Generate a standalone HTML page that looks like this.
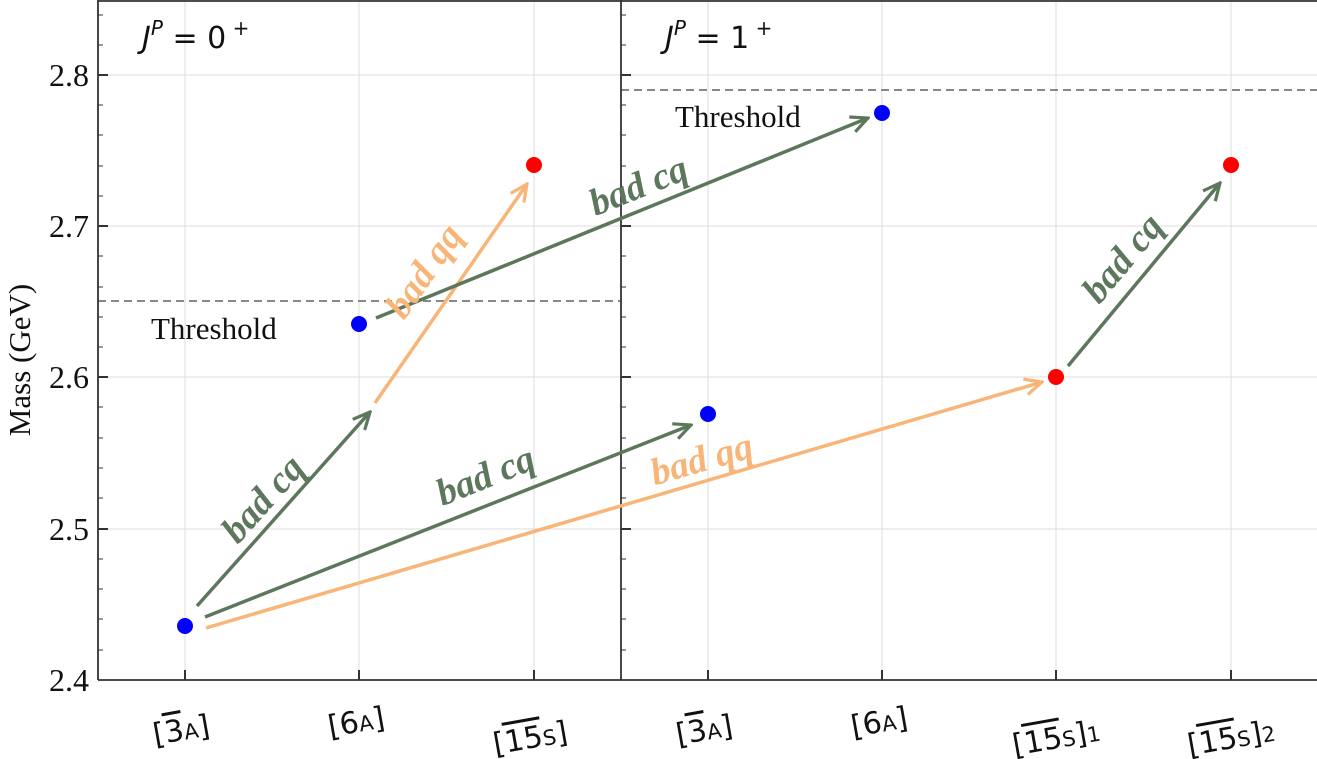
<!DOCTYPE html>
<html><head><meta charset="utf-8"><style>body{margin:0;background:#fff}svg{display:block}</style></head><body>
<svg width="1317" height="759" xmlns="http://www.w3.org/2000/svg" font-family="Liberation Serif, serif">
<defs>
<marker id="ag" markerWidth="20" markerHeight="20" refX="18" refY="10" orient="auto" markerUnits="userSpaceOnUse" viewBox="0 0 20 20"><path d="M1,2 L18,10 L1,18" fill="none" stroke="#5d775d" stroke-width="3.2"/></marker>
<marker id="ao" markerWidth="20" markerHeight="20" refX="18" refY="10" orient="auto" markerUnits="userSpaceOnUse" viewBox="0 0 20 20"><path d="M1,2 L18,10 L1,18" fill="none" stroke="#f8b577" stroke-width="3.2"/></marker>
</defs>
<g stroke="#dcdcdc" stroke-width="1">
<line x1="98" y1="75" x2="1317" y2="75"/><line x1="98" y1="226" x2="1317" y2="226"/><line x1="98" y1="377" x2="1317" y2="377"/><line x1="98" y1="529" x2="1317" y2="529"/>
<line x1="185" y1="0" x2="185" y2="680"/><line x1="359" y1="0" x2="359" y2="680"/><line x1="534" y1="0" x2="534" y2="680"/>
<line x1="708" y1="0" x2="708" y2="680"/><line x1="882" y1="0" x2="882" y2="680"/><line x1="1056" y1="0" x2="1056" y2="680"/><line x1="1231" y1="0" x2="1231" y2="680"/>
</g>
<g stroke="#888" stroke-width="2" stroke-dasharray="8,5">
<line x1="98" y1="301" x2="621" y2="301"/><line x1="621" y1="90" x2="1317" y2="90"/>
</g>
<g stroke="#333" stroke-width="1.8" fill="none">
<line x1="98" y1="1" x2="1317" y2="1"/>
<line x1="98" y1="680" x2="1317" y2="680"/>
<line x1="98" y1="0" x2="98" y2="680"/>
<line x1="621" y1="0" x2="621" y2="680"/>
</g>
<g stroke="#333" stroke-width="2">
<line x1="98" y1="75" x2="108" y2="75"/><line x1="98" y1="226" x2="108" y2="226"/><line x1="98" y1="377" x2="108" y2="377"/><line x1="98" y1="529" x2="108" y2="529"/>
<line x1="621" y1="75" x2="631" y2="75"/><line x1="621" y1="226" x2="631" y2="226"/><line x1="621" y1="377" x2="631" y2="377"/><line x1="621" y1="529" x2="631" y2="529"/>
<line x1="185" y1="680" x2="185" y2="670"/><line x1="359" y1="680" x2="359" y2="670"/><line x1="534" y1="680" x2="534" y2="670"/>
<line x1="708" y1="680" x2="708" y2="670"/><line x1="882" y1="680" x2="882" y2="670"/><line x1="1056" y1="680" x2="1056" y2="670"/><line x1="1231" y1="680" x2="1231" y2="670"/>
</g>
<g stroke="#333" stroke-width="1">
<line x1="98" y1="15" x2="103" y2="15"/><line x1="98" y1="45" x2="103" y2="45"/><line x1="98" y1="105" x2="103" y2="105"/><line x1="98" y1="135" x2="103" y2="135"/><line x1="98" y1="166" x2="103" y2="166"/><line x1="98" y1="196" x2="103" y2="196"/><line x1="98" y1="256" x2="103" y2="256"/><line x1="98" y1="287" x2="103" y2="287"/><line x1="98" y1="317" x2="103" y2="317"/><line x1="98" y1="347" x2="103" y2="347"/><line x1="98" y1="407" x2="103" y2="407"/><line x1="98" y1="438" x2="103" y2="438"/><line x1="98" y1="468" x2="103" y2="468"/><line x1="98" y1="498" x2="103" y2="498"/><line x1="98" y1="559" x2="103" y2="559"/><line x1="98" y1="589" x2="103" y2="589"/><line x1="98" y1="619" x2="103" y2="619"/><line x1="98" y1="650" x2="103" y2="650"/>
<line x1="621" y1="15" x2="626" y2="15"/><line x1="621" y1="45" x2="626" y2="45"/><line x1="621" y1="105" x2="626" y2="105"/><line x1="621" y1="135" x2="626" y2="135"/><line x1="621" y1="166" x2="626" y2="166"/><line x1="621" y1="196" x2="626" y2="196"/><line x1="621" y1="256" x2="626" y2="256"/><line x1="621" y1="287" x2="626" y2="287"/><line x1="621" y1="317" x2="626" y2="317"/><line x1="621" y1="347" x2="626" y2="347"/><line x1="621" y1="407" x2="626" y2="407"/><line x1="621" y1="438" x2="626" y2="438"/><line x1="621" y1="468" x2="626" y2="468"/><line x1="621" y1="498" x2="626" y2="498"/><line x1="621" y1="559" x2="626" y2="559"/><line x1="621" y1="589" x2="626" y2="589"/><line x1="621" y1="619" x2="626" y2="619"/><line x1="621" y1="650" x2="626" y2="650"/>
</g>
<g font-size="32" fill="#111" text-anchor="end">
<text x="89" y="86">2.8</text><text x="89" y="237">2.7</text><text x="89" y="388">2.6</text><text x="89" y="540">2.5</text><text x="89" y="691">2.4</text>
</g>
<text transform="translate(30,360) rotate(-90)" font-size="31" text-anchor="middle" fill="#111">Mass (GeV)</text>
<g font-family="DejaVu Sans, sans-serif" font-size="30" fill="#111">
<text x="142" y="48" font-style="italic">J<tspan font-size="20" dy="-13">P</tspan><tspan dy="13" font-style="normal"> = 0</tspan><tspan font-size="20" dy="-13" font-style="normal"> +</tspan></text>
<text x="665" y="48" font-style="italic">J<tspan font-size="20" dy="-13">P</tspan><tspan dy="13" font-style="normal"> = 1</tspan><tspan font-size="20" dy="-13" font-style="normal"> +</tspan></text>
</g>
<text x="151" y="339" font-size="31" fill="#111">Threshold</text>
<text x="675" y="127" font-size="31" fill="#111">Threshold</text>
<g font-family="DejaVu Sans, sans-serif" font-size="30" fill="#111">
<text transform="translate(183,740) rotate(-10)" text-anchor="middle">[<tspan text-decoration="overline">3</tspan><tspan font-size="21">A</tspan>]</text>
<text transform="translate(358,732) rotate(-10)" text-anchor="middle">[6<tspan font-size="21">A</tspan>]</text>
<text transform="translate(532,748) rotate(-10)" text-anchor="middle">[<tspan text-decoration="overline">15</tspan><tspan font-size="21">S</tspan>]</text>
<text transform="translate(706,740) rotate(-10)" text-anchor="middle">[<tspan text-decoration="overline">3</tspan><tspan font-size="21">A</tspan>]</text>
<text transform="translate(881,732) rotate(-10)" text-anchor="middle">[6<tspan font-size="21">A</tspan>]</text>
<text transform="translate(1058,748) rotate(-10)" text-anchor="middle">[<tspan text-decoration="overline">15</tspan><tspan font-size="21">S</tspan>]<tspan font-size="21">1</tspan></text>
<text transform="translate(1233,748) rotate(-10)" text-anchor="middle">[<tspan text-decoration="overline">15</tspan><tspan font-size="21">S</tspan>]<tspan font-size="21">2</tspan></text>
</g>
<g stroke-width="3.5" fill="none">
<line x1="197" y1="606" x2="370" y2="412" stroke="#5d775d" marker-end="url(#ag)"/>
<line x1="375" y1="403" x2="527" y2="184" stroke="#f8b577" marker-end="url(#ao)"/>
<line x1="376" y1="318" x2="868" y2="118" stroke="#5d775d" marker-end="url(#ag)"/>
<line x1="205" y1="617" x2="691" y2="425" stroke="#5d775d" marker-end="url(#ag)"/>
<line x1="206" y1="628" x2="1042" y2="382" stroke="#f8b577" marker-end="url(#ao)"/>
<line x1="1068" y1="366" x2="1220" y2="183" stroke="#5d775d" marker-end="url(#ag)"/>
</g>
<g font-size="38" font-weight="bold" font-style="italic" text-anchor="middle">
<text transform="translate(272,507) rotate(-48)" fill="#5d775d">bad cq</text>
<text transform="translate(434,278) rotate(-55)" fill="#f8b577">bad qq</text>
<text transform="translate(643,197) rotate(-22)" fill="#5d775d">bad cq</text>
<text transform="translate(490,487) rotate(-22)" fill="#5d775d">bad cq</text>
<text transform="translate(705,471) rotate(-16)" fill="#f8b577">bad qq</text>
<text transform="translate(1132,266) rotate(-50)" fill="#5d775d">bad cq</text>
</g>
<g>
<circle cx="185" cy="626" r="8" fill="#0000ff"/><circle cx="359" cy="324" r="8" fill="#0000ff"/><circle cx="534" cy="165" r="8" fill="#ff0000"/>
<circle cx="708" cy="414" r="8" fill="#0000ff"/><circle cx="882" cy="113" r="8" fill="#0000ff"/><circle cx="1056" cy="377" r="8" fill="#ff0000"/><circle cx="1231" cy="165" r="8" fill="#ff0000"/>
</g>
</svg>
</body></html>
